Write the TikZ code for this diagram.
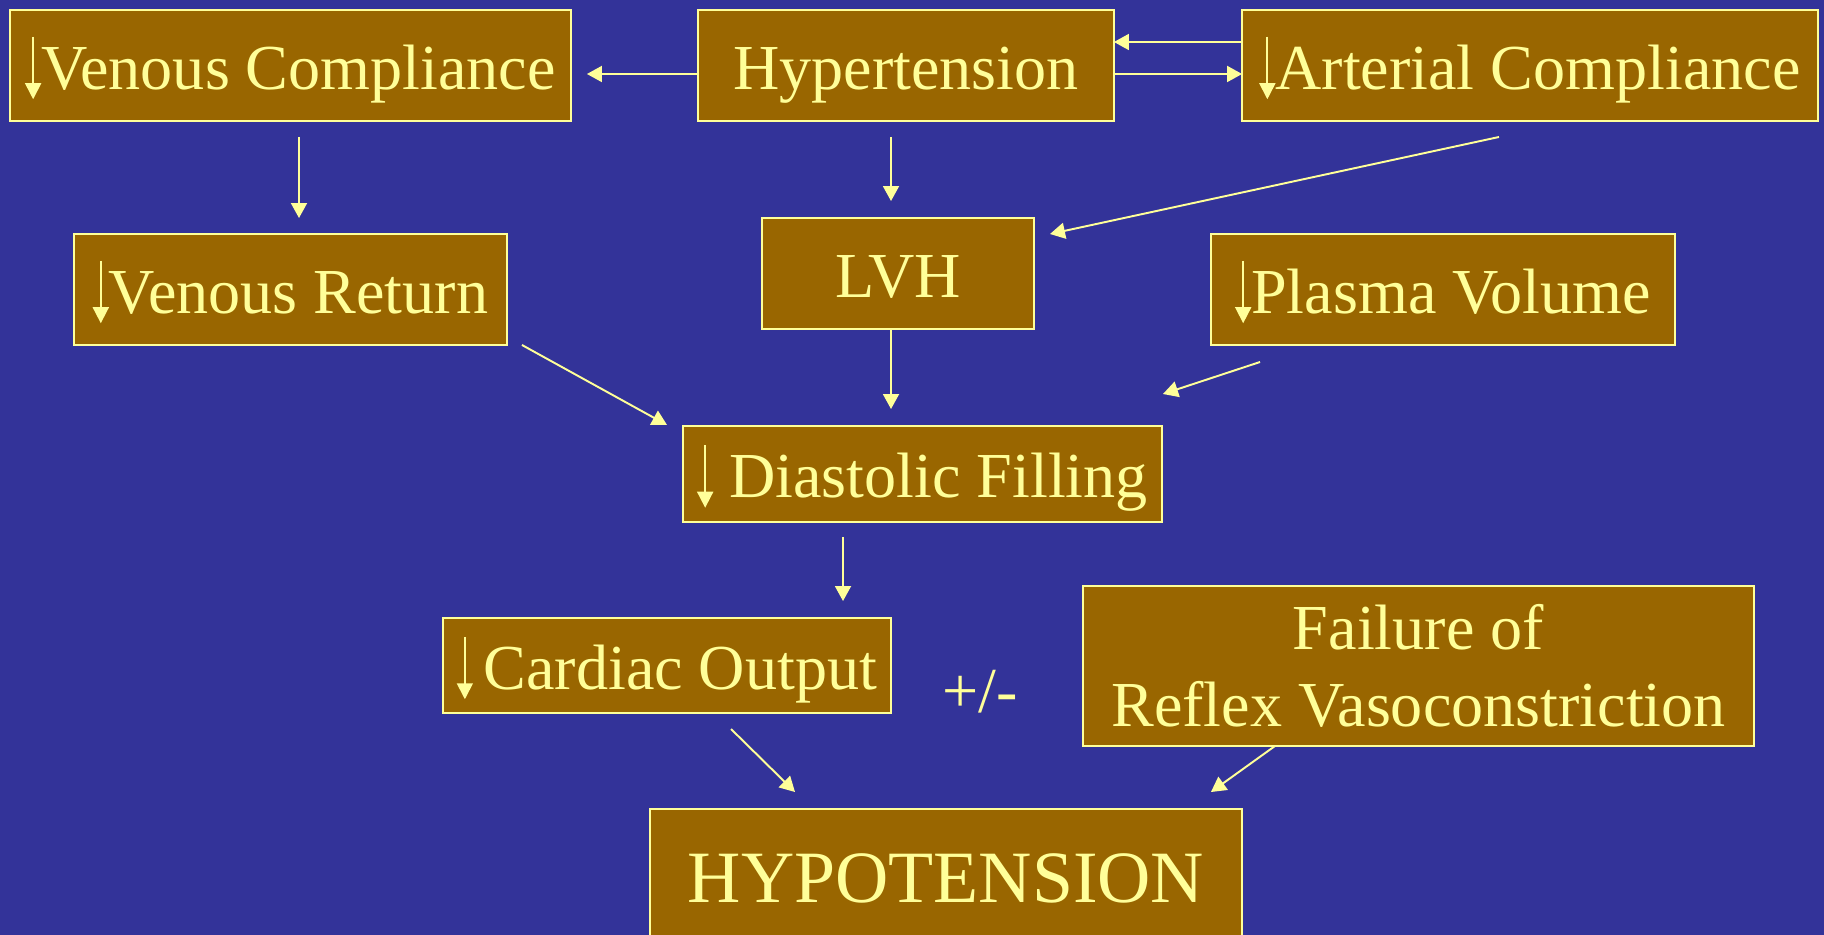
\documentclass[tikz,border=0pt]{standalone}
\usepackage{fontspec}
\setmainfont{Liberation Serif}
\usetikzlibrary{arrows.meta,calc}

\definecolor{hyback}{RGB}{51,51,153}
\definecolor{hyfill}{RGB}{153,102,0}
\definecolor{hyline}{RGB}{255,255,153}

% thin tall "decrease" arrow set in front of a label
\newcommand{\dnArrow}{\tikz[baseline=0pt, x=1cm, y=1cm]
  \draw[hyline, line width=1pt, -{Triangle[length=0.32cm, width=0.32cm, fill=hyline]}] (0,1.05) -- (0,-0.20);}

\begin{document}
\begin{tikzpicture}[
  x=0.02cm,
  y=-0.02cm,
  every node/.style={inner sep=0pt, outer sep=0pt},
  hyText/.style={font=\fontsize{36.5}{43.7}\selectfont, text=hyline, align=center},
  hyBox/.style={hyText, draw=hyline, fill=hyfill, line width=1.3pt},
  hyOne/.style={hyBox, text height=0.95cm, text depth=0cm},
  hyConn/.style={draw=hyline, line width=1.1pt, -{Triangle[length=0.30cm, width=0.32cm, fill=hyline]}}
]

  \fill[hyback] (0,0) rectangle (1824,935);
  \useasboundingbox (0,0) rectangle (1824,935);
  \clip (0,0) rectangle (1824,935);

  % top row
  \node[hyOne, minimum width=11.22cm, minimum height=2.22cm] (vc) at (290.5,65.5) {\dnArrow Venous Compliance};
  \node[hyOne, minimum width=8.32cm, minimum height=2.22cm] (hyp) at (906,65.5) {Hypertension};
  \node[hyOne, minimum width=11.52cm, minimum height=2.22cm] (art) at (1530,65.5) {\dnArrow Arterial Compliance};

  % second row
  \node[hyOne, minimum width=8.66cm, minimum height=2.22cm] (vr) at (290.5,289.5) {\dnArrow Venous Return};
  \node[hyOne, minimum width=5.44cm, minimum height=2.22cm] (lvh) at (898,273.5) {LVH};
  \node[hyOne, minimum width=9.28cm, minimum height=2.22cm] (pv) at (1443,289.5) {\dnArrow Plasma Volume};

  \node[hyOne, minimum width=9.58cm, minimum height=1.92cm] (df) at (922.5,474) {\dnArrow\ Diastolic Filling};

  % lower rows
  \node[hyOne, minimum width=8.96cm, minimum height=1.90cm] (co) at (667,665.5) {\dnArrow\,Cardiac Output};
  \node[hyText] (pm) at (980,692) {+/-};
  \node[hyBox, minimum width=13.42cm, minimum height=3.20cm] (fail) at (1418.5,666) {Failure of\\Reflex Vasoconstriction};
  \node[hyOne, font=\fontsize{42}{50}\selectfont, text height=1.0cm, minimum width=11.84cm, minimum height=2.72cm] (hypo) at (946,877) {HYPOTENSION};

  \draw[hyConn] ($(hyp.west)+(0,8.5)$) -- ($(vc.east)+(16,8.5)$);
  \draw[hyConn] ($(art.west)+(0,-23.5)$) -- ($(hyp.east)+(0,-23.5)$);
  \draw[hyConn] ($(hyp.east)+(0,8.5)$) -- ($(art.west)+(0,8.5)$);

  \draw[hyConn] ($(vc.south)+(8.5,16)$) -- ($(vr.north)+(8.5,-16)$);
  \draw[hyConn] ($(hyp.south)+(-15,16)$) -- ($(lvh.north)+(-7,-17)$);
  \draw[hyConn] ($(art.south)+(-31,16)$) -- ($(lvh.north east)+(16,16)$);

  \draw[hyConn] ($(vr.south east)+(15,0)$) -- ($(df.north west)+(-16,-1)$);
  \draw[hyConn] ($(lvh.south)+(-7,0)$) -- ($(df.north)+(-31.5,-17)$);
  \draw[hyConn] ($(pv.south west)+(49,17)$) -- ($(df.north east)+(1,-32)$);

  \draw[hyConn] ($(df.south)+(-79.5,15)$) -- ($(co.north)+(176,-17)$);
  \draw[hyConn] ($(co.south)+(64,16)$) -- ($(hypo.north)+(-151,-17)$);
  \draw[hyConn] ($(fail.south)+(-143.5,0)$) -- ($(hypo.north east)+(-31,-17)$);

\end{tikzpicture}
\end{document}
